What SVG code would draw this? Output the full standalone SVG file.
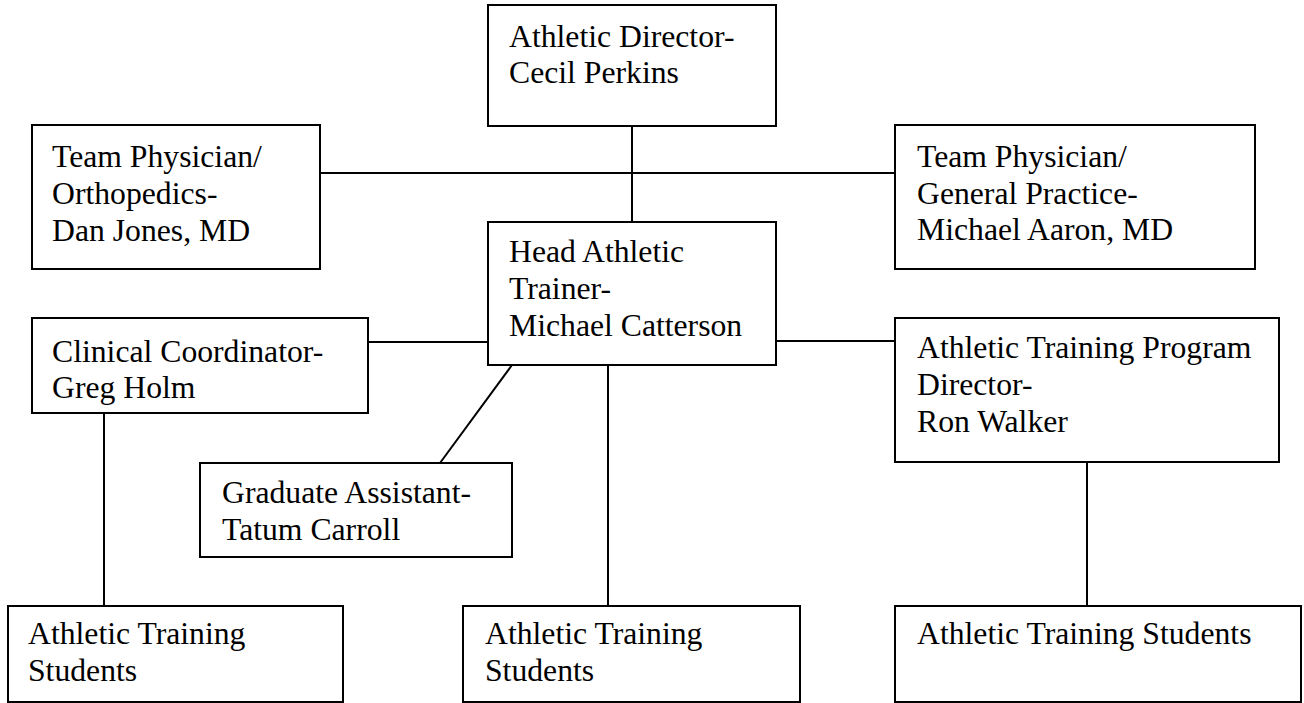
<svg xmlns="http://www.w3.org/2000/svg" width="1304" height="703" viewBox="0 0 1304 703">
<style>
.box{fill:#fff;stroke:#000;stroke-width:2}
.lbl{font-family:"Liberation Serif","Times New Roman",serif;font-size:31.7px;fill:#000}
.conn line{stroke:#000;stroke-width:2}
</style>
<rect width="1304" height="703" fill="#fff"/>
<g id="connectors" class="conn">
<line x1="632" y1="126" x2="632" y2="222"/>
<line x1="320" y1="173" x2="895" y2="173"/>
<line x1="368" y1="342" x2="488" y2="342"/>
<line x1="776" y1="341" x2="895" y2="341"/>
<line x1="512" y1="365" x2="440" y2="463"/>
<line x1="608" y1="365" x2="608" y2="606"/>
<line x1="104" y1="413" x2="104" y2="606"/>
<line x1="1087" y1="462" x2="1087" y2="606"/>
</g>
<g id="athletic-director">
<rect class="box" x="488" y="5" width="288" height="121"/>
<text class="lbl" x="509" y="47">Athletic Director-</text>
<text class="lbl" x="509" y="83">Cecil Perkins</text>
</g>
<g id="team-physician-ortho">
<rect class="box" x="32" y="125" width="288" height="144"/>
<text class="lbl" x="52" y="167">Team Physician/</text>
<text class="lbl" x="52" y="204">Orthopedics-</text>
<text class="lbl" x="52" y="241">Dan Jones, MD</text>
</g>
<g id="team-physician-gp">
<rect class="box" x="895" y="125" width="360" height="144"/>
<text class="lbl" x="917" y="167">Team Physician/</text>
<text class="lbl" x="917" y="204">General Practice-</text>
<text class="lbl" x="917" y="240">Michael Aaron, MD</text>
</g>
<g id="head-athletic-trainer">
<rect class="box" x="488" y="222" width="288" height="143"/>
<text class="lbl" x="509" y="262">Head Athletic</text>
<text class="lbl" x="509" y="299">Trainer-</text>
<text class="lbl" x="509" y="336">Michael Catterson</text>
</g>
<g id="clinical-coordinator">
<rect class="box" x="32" y="318" width="336" height="95"/>
<text class="lbl" x="52" y="362">Clinical Coordinator-</text>
<text class="lbl" x="52" y="398">Greg Holm</text>
</g>
<g id="program-director">
<rect class="box" x="895" y="318" width="384" height="144"/>
<text class="lbl" x="917" y="358">Athletic Training Program</text>
<text class="lbl" x="917" y="395">Director-</text>
<text class="lbl" x="917" y="432">Ron Walker</text>
</g>
<g id="graduate-assistant">
<rect class="box" x="200" y="463" width="312" height="94"/>
<text class="lbl" x="222" y="503">Graduate Assistant-</text>
<text class="lbl" x="222" y="540">Tatum Carroll</text>
</g>
<g id="students-left">
<rect class="box" x="8" y="606" width="335" height="96"/>
<text class="lbl" x="28" y="644">Athletic Training</text>
<text class="lbl" x="28" y="681">Students</text>
</g>
<g id="students-middle">
<rect class="box" x="463" y="606" width="337" height="96"/>
<text class="lbl" x="485" y="644">Athletic Training</text>
<text class="lbl" x="485" y="681">Students</text>
</g>
<g id="students-right">
<rect class="box" x="895" y="606" width="406" height="96"/>
<text class="lbl" x="917" y="644">Athletic Training Students</text>
</g>
</svg>
